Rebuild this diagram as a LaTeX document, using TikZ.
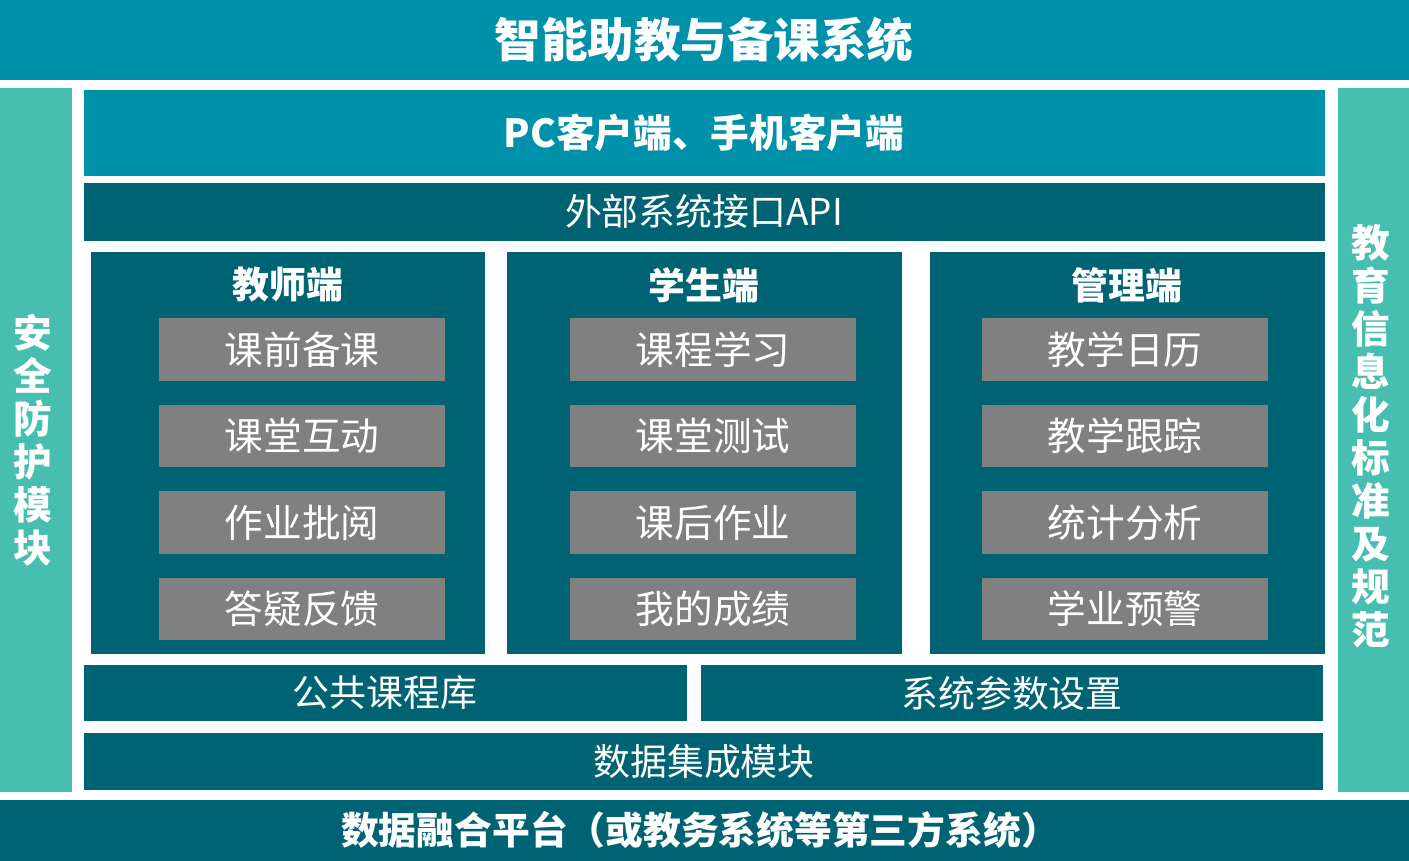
\documentclass[tikz,border=0pt]{standalone}
\usepackage{fontspec}
\setmainfont{Noto Sans CJK SC}
\usepackage{tikz}
\definecolor{topteal}{RGB}{0,145,170}
\definecolor{darkteal}{RGB}{0,99,115}
\definecolor{sideteal}{RGB}{70,190,176}
\definecolor{boxgray}{RGB}{128,128,128}
\tikzset{
  bar/.style={draw=none,inner sep=0pt,text=white},
  item/.style={fill=boxgray,minimum width=5.74cm,minimum height=1.26cm,inner sep=0pt,text=white,font=\fontsize{22}{22}\selectfont},
  head/.style={text=white,font=\fontsize{21}{21}\selectfont\bfseries},
}
\begin{document}
\begin{tikzpicture}[x=0.02cm,y=-0.02cm]
  \useasboundingbox (0,0) rectangle (1409,861);
  % frame bars
  \fill[topteal] (0,0) rectangle (1409,80);
  \node[head,font=\fontsize{26.5}{26.5}\selectfont\bfseries] (title) at (704,40) {智能助教与备课系统};
  \fill[darkteal] (0,800) rectangle (1409,861);
  \node[head,font=\fontsize{21.5}{21.5}\selectfont\bfseries] (platform) at (700,830) {数据融合平台（或教务系统等第三方系统）};
  \fill[sideteal] (0,88) rectangle (72,792);
  \node[head,align=center,font=\fontsize{22}{24.5}\selectfont\bfseries] (safety) at (33,440) {安\\全\\防\\护\\模\\块};
  \fill[sideteal] (1338,88) rectangle (1409,792);
  \node[head,align=center,font=\fontsize{22}{24.5}\selectfont\bfseries] (standard) at (1371,436) {教\\育\\信\\息\\化\\标\\准\\及\\规\\范};
  % layers
  \fill[topteal] (84,90) rectangle (1325,176);
  \node[head,font=\fontsize{22}{22}\selectfont\bfseries] (client) at (704,133) {PC客户端、手机客户端};
  \fill[darkteal] (84,183) rectangle (1325,241);
  \node[head,font=\fontsize{21}{21}\selectfont\mdseries] (api) at (704,211) {外部系统接口API};
  \fill[darkteal] (84,665) rectangle (687,721);
  \node[head,font=\fontsize{21}{21}\selectfont\mdseries] (library) at (385,693) {公共课程库};
  \fill[darkteal] (701,665) rectangle (1323,721);
  \node[head,font=\fontsize{21}{21}\selectfont\mdseries] (settings) at (1012,693) {系统参数设置};
  \fill[darkteal] (84,733) rectangle (1323,790);
  \node[head,font=\fontsize{21}{21}\selectfont\mdseries] (integration) at (704,762) {数据集成模块};
  % three panels
  \fill[darkteal] (91,252) rectangle (485,654);
  \fill[darkteal] (507,252) rectangle (902,654);
  \fill[darkteal] (930,252) rectangle (1325,654);
  \node[head] (teacher) at (288,285) {教师端};
  \node[head] (student) at (704,285) {学生端};
  \node[head] (admin) at (1127,285) {管理端};
  \foreach \t [count=\i] in {课前备课,课堂互动,作业批阅,答疑反馈}
  {
    \node[item] (teacher\i) at (302,263+86.5*\i) {\t};
  }
  \foreach \t [count=\i] in {课程学习,课堂测试,课后作业,我的成绩}
  {
    \node[item] (student\i) at (713,263+86.5*\i) {\t};
  }
  \foreach \t [count=\i] in {教学日历,教学跟踪,统计分析,学业预警}
  {
    \node[item] (admin\i) at (1125,263+86.5*\i) {\t};
  }
\end{tikzpicture}
\end{document}
